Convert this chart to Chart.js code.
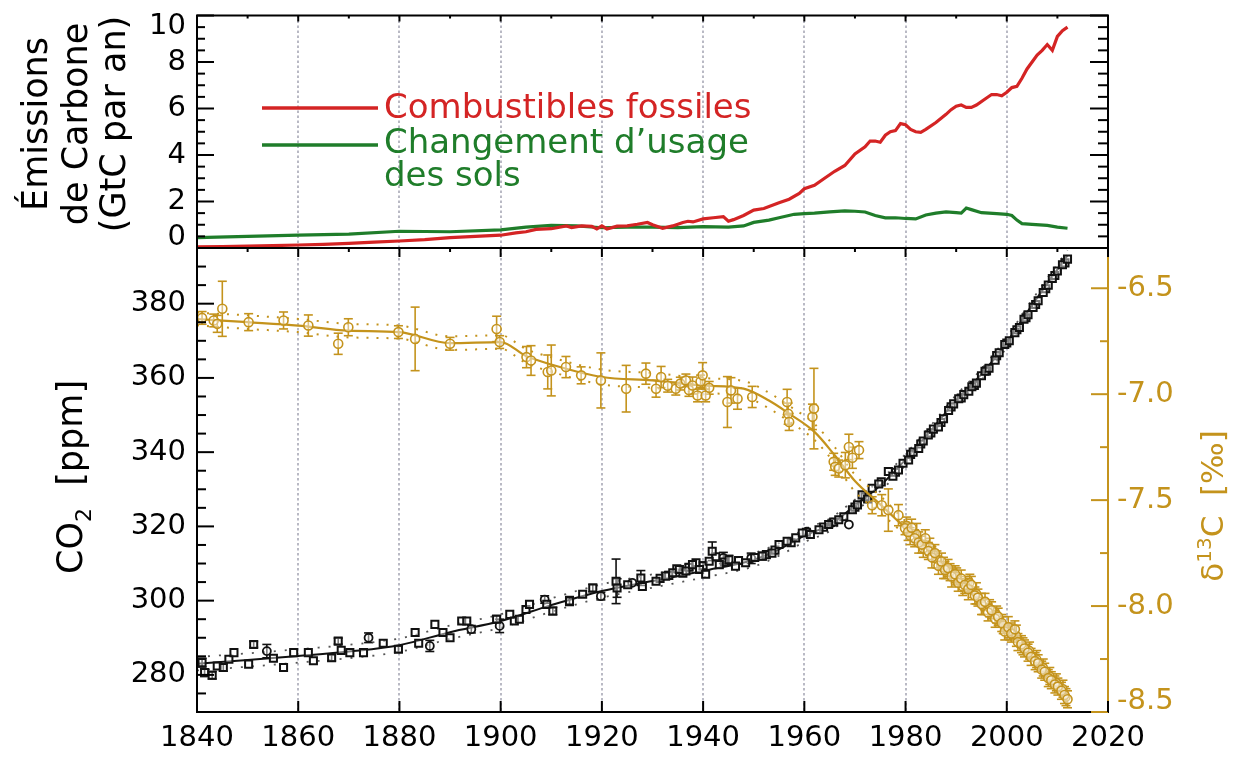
<!DOCTYPE html>
<html>
<head>
<meta charset="utf-8">
<script src="https://cdn.jsdelivr.net/npm/chart.js@4.4.0/dist/chart.umd.min.js"></script>
<style>
  html, body { margin: 0; padding: 0; background: #fff; }
  #wrap { position: relative; width: 1250px; height: 758px; }
  #wrap canvas { position: absolute; left: 0; top: 0; }
</style>
</head>
<body>
<div id="wrap">
  <canvas id="emissions" width="1250" height="758"></canvas>
  <canvas id="co2" width="1250" height="758"></canvas>
</div>
<script>
// ---- data ----
const yearTicks = [1840, 1860, 1880, 1900, 1920, 1940, 1960, 1980, 2000, 2020];
const emisTicks = [0, 2, 4, 6, 8, 10];
const co2Ticks = [280, 300, 320, 340, 360, 380];
const d13Ticks = [-6.5, -7.0, -7.5, -8.0, -8.5];

// fossil fuel emissions, GtC per year
const fossilYears = [1840,1845,1850,1855,1860,1865,1870,1875,1880,1885,1890,1895,1900,
  1903,1905,1907,1910,1913,1914,1916,1918,1919,1920,1921,1923,1925,1927,1929,1930,1932,1934,1936,1937,1938,1940,1942,1944,1945,1946,1948,1950,1952,1955,1957,1959,
  1960,1962,1964,1966,1968,1970,1972,1973,1974,1975,1976,1977,1978,1979,1980,1981,1982,1983,1984,1986,1988,1989,1990,1991,1992,1993,1994,1996,1997,1998,1999,
  2000,2001,2002,2003,2004,2005,2006,2007,2008,2009,2010,2011,2012];
const fossilValues = [0.05,0.06,0.08,0.1,0.13,0.16,0.2,0.25,0.3,0.36,0.45,0.5,0.55,
  0.65,0.7,0.8,0.83,0.95,0.88,0.95,0.93,0.82,0.95,0.82,0.94,0.95,1.02,1.1,1.0,0.85,0.95,1.1,1.15,1.12,1.25,1.3,1.35,1.15,1.22,1.4,1.63,1.7,1.95,2.1,2.35,
  2.55,2.7,3.0,3.3,3.55,4.05,4.35,4.6,4.6,4.55,4.85,5.0,5.05,5.35,5.3,5.1,5.0,4.97,5.1,5.4,5.75,5.95,6.1,6.15,6.05,6.05,6.15,6.45,6.6,6.6,6.55,
  6.7,6.9,6.95,7.3,7.7,8.0,8.3,8.5,8.75,8.5,9.1,9.35,9.5];

// land use change emissions, GtC per year
const landYears = [1840,1850,1860,1870,1880,1890,1900,1905,1910,1915,1920,1925,1930,1935,1940,1945,1948,1950,1953,1955,
  1958,1960,1962,1965,1968,1970,1972,1974,1976,1978,1980,1982,1984,1986,1988,1990,1991,1992,1993,1995,1998,2000,2001,2002,2003,2005,2008,2010,2012];
const landValues = [0.45,0.5,0.55,0.6,0.72,0.7,0.78,0.9,0.97,0.95,0.87,0.9,0.9,0.88,0.92,0.9,0.95,1.1,1.2,1.3,
  1.45,1.48,1.5,1.55,1.6,1.58,1.55,1.4,1.3,1.3,1.27,1.25,1.42,1.5,1.55,1.52,1.5,1.72,1.65,1.52,1.48,1.45,1.4,1.2,1.05,1.02,0.97,0.9,0.85];

// CO2 ice core / atmospheric samples (squares), ppm with 1-sigma error
const co2Years = [1841.0,1841.5,1843.0,1844.0,1845.2,1846.3,1847.3,1850.2,1851.2,1855.1,1857.1,1859.1,1862.0,1863.0,1866.6,1867.9,1868.5,1870.2,1872.9,1876.8,
  1879.8,1883.1,1883.8,1887.0,1888.6,1890.0,1892.3,1893.3,1899.2,1901.8,1902.7,1903.7,1905.0,1905.7,1909.1,1910.3,1913.6,1916.2,1918.2,1922.8,
  1923.0,1925.1,1927.7,1928.0,1930.7,1932.6,1934.0,1935.3,1936.6,1937.9,1939.3,1940.5,1941.2,1941.8,1943.2,1945.1,1946.4,1948.4,1951.7,1953.6,
  1955.0,1956.6,1958.3,1959.6,1961.2,1962.9,1964.8,1966.8,1969.5,1970.5,1971.4,1972.5,1973.4,1974.7,1976.6,1977.5,1978.6,1979.5,1980.6,1981.5,
  1982.6,1983.5,1984.5,1985.5,1986.5,1987.5,1988.5,1989.5,1990.5,1991.5,1992.5,1993.1,1994.0,1995.0,1995.7,1996.5,1997.7,1998.5,1999.6,2000.5,
  2001.6,2002.5,2003.4,2004.2,2005.2,2006.2,2007.2,2008.2,2009.0,2010.0,2011.0,2012.0];
const co2Values = [283.3,280.6,279.9,282.4,282.0,284.2,286.0,282.9,288.2,284.5,282.0,286.0,286.0,283.8,284.6,289.1,286.6,286.0,286.0,288.5,
  286.9,291.4,288.5,293.6,291.4,290.0,294.5,294.5,295.0,296.3,294.5,295.0,297.6,299.0,299.0,297.2,299.9,301.7,303.4,305.2,
  303.4,304.3,306.1,303.8,305.2,306.6,307.5,308.4,308.0,309.7,308.4,307.1,310.6,313.3,309.7,311.0,309.3,310.2,312.0,312.8,
  315.1,316.0,316.9,318.2,317.8,319.1,320.5,321.8,324.5,325.8,328.5,327.4,330.3,331.4,334.8,333.5,335.2,337.0,337.9,340.0,
  341.0,343.0,344.6,346.2,346.8,349.0,351.2,353.0,354.4,355.5,356.4,357.6,358.6,360.6,361.8,362.6,364.8,366.8,369.0,370.0,
  372.2,373.6,375.8,377.0,379.0,380.8,383.0,385.0,386.8,388.8,390.5,392.0];
const co2Errors = [1.2,1.0,1.0,0,1.0,0,0,0,0.8,0,0,0,0,0,0.8,0.8,0,0,0,0,
  0.8,0,0,0,0,0,0,0,1.0,0,0,0,0,0,0,1.0,1.2,0,1.0,6.0,
  2.5,0,2.0,0,0,0,0,1.0,0,1.0,0,0,0,2.5,0,1.2,0,0,1.0,0,
  0,0,0,0,0,0,0,0,0,0,0,0,0,0,0,0,0,0,0,0,
  0,0,0,0,0,0,0,0,0,0,0,0,0,0,0,0,0,0,0,0,
  0,0,0,0,0,0,0,0,0,0,0,0];

// second CO2 record, same marker (high resolution ice core + station data)
const co2bYears = [1931.5,1933.2,1934.8,1936.0,1937.2,1938.6,1940.0,1942.5,1944.2,1947.0,1950.2,1952.5,1954.2,1957.4,1960.4,1963.8,1965.8,1967.8,
  1970.0,1972.0,1975.2,1978.0,1981.0,1983.0,1985.0,1987.0,1989.0,1991.0,1993.6,1996.0,1998.0,2000.0,2002.0,2003.8,2005.7,2007.7,2009.5,2011.5];
const co2bValues = [306.0,306.8,308.6,307.4,309.0,310.2,309.4,311.8,310.4,310.8,311.6,312.4,313.6,315.6,318.4,319.8,321.2,322.6,
  325.2,328.0,332.0,334.6,339.4,342.2,345.2,348.0,352.2,354.6,358.0,361.9,366.0,369.4,373.0,376.2,379.8,384.0,387.6,391.0];
const co2bErrors = [0,1.0,0,0,0.8,0,1.0,0,0,0,0,0,0,0,0,0,0,0,
  0,0,0,0,0,0,0,0,0,0,0,0,0,0,0,0,0,0,0,0];

// CO2 firn samples (circles)
const firnYears = [1853.8,1873.9,1886.0,1894.2,1899.8,1908.7,1919.8,1926.0,1944.0,1949.5,1960.5,1965.5,1968.8];
const firnValues = [286.4,290.0,287.8,292.3,293.2,300.3,301.2,304.8,311.5,311.4,318.6,321.0,320.5];
const firnErrors = [1.8,1.3,1.5,1.0,1.8,1.0,1.0,0,1.5,1.4,0,0,0];

// CO2 spline and its uncertainty envelope
const co2FitYears = [1840,1850,1860,1870,1880,1890,1900,1910,1920,1930,1940,1950,1955,1960,1965,1970,1975,1980,1985,1990,1995,2000,2005,2012];
const co2Fit = [283.0,284.0,285.1,286.3,288.0,291.5,294.5,298.8,302.6,305.3,308.0,311.0,313.8,317.5,320.4,325.6,331.0,338.0,345.8,354.0,361.0,369.6,379.6,393.0];
const co2FitHigh = [284.8,285.8,286.9,288.1,289.8,293.3,296.3,300.6,304.4,307.1,309.8,312.8,315.5,319.2,322.1,327.2,332.5,339.5,347.2,355.4,362.4,371.0,381.0,394.4];
const co2FitLow = [281.2,282.2,283.3,284.5,286.2,289.7,292.7,297.0,300.8,303.5,306.2,309.2,312.1,315.8,318.7,324.0,329.5,336.5,344.4,352.6,359.6,368.2,378.2,391.6];

// delta 13C of atmospheric CO2, per mil
const d13Years = [1841.0,1843.3,1844.0,1845.0,1850.2,1857.1,1862.0,1867.9,1869.9,1879.8,1883.1,1890.0,1899.2,1899.8,1905.1,1906.0,1909.3,1910.0,1912.9,1915.9,
  1919.8,1924.8,1928.7,1930.7,1931.7,1933.0,1934.6,1935.5,1936.6,1937.2,1937.9,1938.9,1939.5,1939.9,1940.5,1941.2,1944.8,1945.5,1946.8,1949.7,
  1956.6,1956.8,1957.0,1961.6,1961.9,1965.8,1966.1,1966.8,1968.1,1968.8,1969.5,1970.8,1973.4,1975.3,1976.6,1978.6,1979.9,
  1980.5,1981.2,1981.8,1982.6,1983.2,1983.9,1984.5,1985.2,1985.8,1986.5,1987.1,1987.8,1988.4,1989.1,1989.8,1990.4,1991.0,1991.7,1992.4,1993.0,
  1993.7,1994.3,1995.0,1995.7,1996.3,1997.0,1997.7,1998.3,1999.0,1999.6,2000.3,2000.9,2001.6,2002.2,2002.9,2003.5,2004.2,2004.8,2005.6,2006.2,
  2006.9,2007.5,2008.2,2008.8,2009.5,2010.1,2010.8,2011.4,2012.0];
const d13Values = [-6.64,-6.652,-6.668,-6.597,-6.66,-6.652,-6.676,-6.762,-6.684,-6.707,-6.739,-6.762,-6.692,-6.754,-6.825,-6.841,-6.895,-6.888,-6.872,-6.911,
  -6.935,-6.974,-6.903,-6.974,-6.919,-6.96,-6.974,-6.95,-6.935,-6.98,-6.959,-7.006,-6.94,-6.911,-7.006,-6.97,-7.037,-6.982,-7.021,-7.013,
  -7.037,-7.092,-7.131,-7.107,-7.068,-7.319,-7.343,-7.351,-7.335,-7.249,-7.30,-7.264,-7.524,-7.524,-7.547,-7.571,-7.633,
  -7.65,-7.63,-7.68,-7.70,-7.71,-7.68,-7.74,-7.77,-7.75,-7.81,-7.79,-7.83,-7.82,-7.86,-7.85,-7.89,-7.87,-7.90,-7.92,-7.90,
  -7.95,-7.96,-7.99,-7.98,-8.03,-8.02,-8.06,-8.05,-8.08,-8.12,-8.10,-8.13,-8.11,-8.17,-8.18,-8.20,-8.22,-8.24,-8.26,-8.27,
  -8.30,-8.31,-8.34,-8.35,-8.37,-8.38,-8.40,-8.42,-8.44];
const d13Errors = [0.03,0.03,0.04,0.13,0.04,0.04,0.05,0.05,0.04,0.03,0.15,0.03,0.06,0.03,0.05,0.07,0.08,0.12,0.05,0.04,
  0.13,0.11,0.05,0.04,0.05,0.03,0.03,0.03,0.03,0.03,0.04,0.03,0.03,0.06,0.03,0.03,0.12,0.06,0.05,0.05,
  0.06,0.05,0.04,0.06,0.19,0.04,0.04,0.04,0.06,0.06,0.05,0.04,0.04,0.05,0.1,0.05,0.03,
  0.04,0.04,0.04,0.05,0.04,0.04,0.04,0.05,0.04,0.04,0.04,0.04,0.04,0.05,0.04,0.04,0.04,0.04,0.05,0.04,
  0.04,0.04,0.05,0.04,0.04,0.04,0.04,0.04,0.04,0.04,0.05,0.04,0.04,0.04,0.04,0.04,0.04,0.04,0.04,0.04,
  0.04,0.04,0.04,0.04,0.04,0.04,0.04,0.04,0.04];

// flask samples of delta 13C, 1980 onwards
const d13FlaskYears = [1980.2,1980.9,1982.2,1983.5,1984.8,1986.2,1987.5,1988.8,1990.1,1991.3,1992.7,1994.0,1995.3,1996.6,1998.0,1999.3,
  2000.6,2001.9,2003.2,2004.5,2005.9,2007.2,2008.5,2009.8,2011.1,2011.7];
const d13FlaskValues = [-7.62,-7.67,-7.66,-7.73,-7.72,-7.78,-7.82,-7.84,-7.86,-7.91,-7.89,-7.94,-8.00,-8.01,-8.04,-8.09,
  -8.12,-8.14,-8.19,-8.21,-8.25,-8.29,-8.33,-8.36,-8.39,-8.43];
const d13FlaskErrors = [0.04,0.04,0.05,0.04,0.04,0.04,0.05,0.04,0.04,0.04,0.04,0.05,0.04,0.04,0.04,0.04,
  0.04,0.05,0.04,0.04,0.04,0.04,0.04,0.04,0.04,0.04];

// delta 13C spline and its envelope
const d13FitYears = [1840,1850,1860,1870,1880,1890,1900,1905,1910,1920,1930,1940,1948,1953,1957,1962,1966,1970,1975,1980,1990,2000,2012];
const d13Fit = [-6.645,-6.66,-6.676,-6.70,-6.707,-6.759,-6.754,-6.82,-6.86,-6.919,-6.935,-6.959,-6.974,-7.03,-7.092,-7.178,-7.288,-7.41,-7.52,-7.633,-7.87,-8.11,-8.43];
const d13FitHigh = [-6.615,-6.628,-6.645,-6.668,-6.676,-6.727,-6.722,-6.787,-6.826,-6.884,-6.9,-6.924,-6.938,-6.993,-7.055,-7.14,-7.25,-7.38,-7.48,-7.6,-7.84,-8.08,-8.4];
const d13FitLow = [-6.675,-6.692,-6.707,-6.732,-6.738,-6.791,-6.786,-6.853,-6.894,-6.954,-6.97,-6.994,-7.01,-7.067,-7.129,-7.216,-7.326,-7.46,-7.56,-7.666,-7.9,-8.14,-8.46];

// ---- layout & style ----
const W = 1250, H = 758;
const PLOT_LEFT = 197, PLOT_RIGHT = 1108;
const PLOT_TOP = 15.5, SPLIT = 248, PLOT_BOTTOM = 712;
const FAMILY = "'DejaVu Sans', sans-serif";
const RED = '#d42424', GREEN = '#1f7d2a', GOLD = '#c4931c', GRID = '#a8a9b6', INK = '#111';

const pairs = (xs, ys) => xs.map((x, i) => ({ x: x, y: ys[i] }));
const range = (from, to, step) => { const out = []; for (let v = from; v <= to + 1e-9; v += step) out.push(+v.toFixed(4)); return out; };

function seg(ctx, x1, y1, x2, y2) {
  ctx.beginPath(); ctx.moveTo(x1, y1); ctx.lineTo(x2, y2); ctx.stroke();
}

// dotted vertical lines every 20 years
function drawGrid(chart) {
  const { ctx, chartArea: a, scales } = chart;
  ctx.save();
  ctx.strokeStyle = GRID; ctx.lineWidth = 1.6; ctx.setLineDash([2.5, 2.5]);
  yearTicks.slice(1, -1).forEach(v => {
    const px = Math.round(scales.x.getPixelForValue(v));
    seg(ctx, px, a.top, px, a.bottom);
  });
  ctx.restore();
}

// inward tick marks on one edge of the plot box
function edgeTicks(chart, scaleId, edge, values, len, color) {
  const { ctx, chartArea: a } = chart;
  const s = chart.scales[scaleId];
  ctx.save();
  ctx.strokeStyle = color; ctx.lineWidth = 2;
  values.forEach(v => {
    const p = s.getPixelForValue(v);
    if (edge === 'left') seg(ctx, a.left, p, a.left + len, p);
    else if (edge === 'right') seg(ctx, a.right, p, a.right - len, p);
    else if (edge === 'top') seg(ctx, p, a.top, p, a.top + len);
    else seg(ctx, p, a.bottom, p, a.bottom - len);
  });
  ctx.restore();
}

// y tick labels; end labels are kept inside the frame
function yLabels(chart, scaleId, side, values, fmt, color) {
  const { ctx, chartArea: a } = chart;
  const s = chart.scales[scaleId];
  ctx.save();
  ctx.font = '29px ' + FAMILY; ctx.fillStyle = color; ctx.textBaseline = 'middle';
  ctx.textAlign = side === 'left' ? 'right' : 'left';
  const x = side === 'left' ? a.left - 11 : a.right + 9;
  values.forEach(v => {
    const p = Math.min(Math.max(s.getPixelForValue(v), a.top + 11), a.bottom - 11);
    ctx.fillText(fmt(v), x, p);
  });
  ctx.restore();
}

// vertical title made of runs (sub/superscripts via size + shift), reading bottom to top
function verticalTitle(ctx, baseX, centerY, runs, color) {
  ctx.save();
  ctx.fillStyle = color; ctx.textBaseline = 'alphabetic'; ctx.textAlign = 'left';
  let total = 0;
  runs.forEach(r => { ctx.font = r.size + 'px ' + FAMILY; total += ctx.measureText(r.text).width; });
  ctx.translate(baseX, centerY);
  ctx.rotate(-Math.PI / 2);
  let x = -total / 2;
  runs.forEach(r => {
    ctx.font = r.size + 'px ' + FAMILY;
    ctx.fillText(r.text, x, r.shift || 0);
    x += ctx.measureText(r.text).width;
  });
  ctx.restore();
}

function drawFrameLines(ctx, a, sides) {
  ctx.save();
  ctx.lineWidth = 2;
  sides.forEach(sd => {
    ctx.strokeStyle = sd.color;
    if (sd.edge === 'top') seg(ctx, a.left - 1, a.top, a.right + 1, a.top);
    if (sd.edge === 'bottom') seg(ctx, a.left - 1, a.bottom, a.right + 1, a.bottom);
    if (sd.edge === 'left') seg(ctx, a.left, a.top, a.left, a.bottom);
    if (sd.edge === 'right') seg(ctx, a.right, a.top, a.right, a.bottom);
  });
  ctx.restore();
}

const emissionsFrame = {
  id: 'emissionsFrame',
  beforeDatasetsDraw(chart) { drawGrid(chart); },
  afterDraw(chart) {
    const { ctx, chartArea: a } = chart;
    drawFrameLines(ctx, a, [
      { edge: 'top', color: '#000' }, { edge: 'left', color: '#000' },
      { edge: 'right', color: '#000' }, { edge: 'bottom', color: '#000' }
    ]);
    edgeTicks(chart, 'y', 'left', emisTicks, 17, '#000');
    edgeTicks(chart, 'y', 'left', range(0.5, 9.5, 0.5).filter(v => v % 2), 8, '#000');
    edgeTicks(chart, 'y', 'right', emisTicks, 18, '#000');
    edgeTicks(chart, 'y', 'right', range(0.5, 9.5, 0.5).filter(v => v % 2), 10, '#000');
    edgeTicks(chart, 'x', 'top', yearTicks, 6, '#000');
    edgeTicks(chart, 'x', 'top', range(1850, 2010, 20), 3, '#000');
    yLabels(chart, 'y', 'left', emisTicks, v => String(v), '#000');

    verticalTitle(ctx, 47, 124, [{ text: 'Émissions', size: 35 }], '#000');
    verticalTitle(ctx, 87, 124, [{ text: 'de Carbone', size: 35 }], '#000');
    verticalTitle(ctx, 125, 124, [{ text: '(GtC par an)', size: 35 }], '#000');

    // legend
    ctx.save();
    ctx.lineWidth = 3.5;
    ctx.strokeStyle = RED; seg(ctx, 262, 108, 378, 108);
    ctx.strokeStyle = GREEN; seg(ctx, 262, 145, 378, 145);
    ctx.font = '34px ' + FAMILY; ctx.textAlign = 'left'; ctx.textBaseline = 'alphabetic';
    ctx.fillStyle = RED; ctx.fillText('Combustibles fossiles', 384, 118);
    ctx.fillStyle = GREEN; ctx.fillText('Changement d\u2019usage', 384, 153);
    ctx.fillText('des sols', 384, 186);
    ctx.restore();
  }
};

const co2Frame = {
  id: 'co2Frame',
  beforeDatasetsDraw(chart) {
    drawGrid(chart);
    // error bars under the markers
    const { ctx, chartArea: a } = chart;
    ctx.save();
    ctx.beginPath(); ctx.rect(a.left, a.top, a.right - a.left, a.bottom - a.top); ctx.clip();
    chart.data.datasets.forEach(ds => {
      if (!ds.errors) return;
      const ys = chart.scales[ds.yAxisID];
      ctx.strokeStyle = ds.borderColor; ctx.lineWidth = 1.6;
      ds.data.forEach((p, j) => {
        const e = ds.errors[j];
        if (!e) return;
        const px = chart.scales.x.getPixelForValue(p.x);
        const hi = ys.getPixelForValue(p.y + e), lo = ys.getPixelForValue(p.y - e);
        seg(ctx, px, hi, px, lo);
        seg(ctx, px - 4.5, hi, px + 4.5, hi);
        seg(ctx, px - 4.5, lo, px + 4.5, lo);
      });
    });
    ctx.restore();
  },
  afterDraw(chart) {
    const { ctx, chartArea: a } = chart;
    drawFrameLines(ctx, a, [
      { edge: 'top', color: '#000' }, { edge: 'left', color: '#000' },
      { edge: 'bottom', color: '#000' }, { edge: 'right', color: GOLD }
    ]);
    edgeTicks(chart, 'y', 'left', co2Ticks, 17, '#000');
    edgeTicks(chart, 'y', 'left', range(275, 390, 5).filter(v => v % 20), 9, '#000');
    edgeTicks(chart, 'yd', 'right', d13Ticks, 17, GOLD);
    edgeTicks(chart, 'yd', 'right', range(-8.25, -6.5, 0.5), 8, GOLD);
    edgeTicks(chart, 'x', 'top', yearTicks, 9, '#000');
    edgeTicks(chart, 'x', 'top', range(1850, 2010, 20), 4, '#000');
    edgeTicks(chart, 'x', 'bottom', yearTicks, 11, '#000');
    yLabels(chart, 'y', 'left', co2Ticks, v => String(v), '#000');
    yLabels(chart, 'yd', 'right', d13Ticks, v => v.toFixed(1), GOLD);

    verticalTitle(ctx, 82, 477, [
      { text: 'CO', size: 35 }, { text: '2', size: 22, shift: 9 }, { text: '  [ppm]', size: 35 }
    ], '#000');
    verticalTitle(ctx, 1223, 506, [
      { text: '\u03b4', size: 31 }, { text: '13', size: 20, shift: -12 }, { text: 'C  [\u2030]', size: 31 }
    ], GOLD);
  }
};

const hiddenGrid = { display: false, drawTicks: false };
const hollow = 'rgba(255,255,255,0.45)';

new Chart(document.getElementById('emissions'), {
  type: 'line',
  data: {
    datasets: [
      { label: 'Combustibles fossiles', data: pairs(fossilYears, fossilValues), borderColor: RED, borderWidth: 3.2, pointRadius: 0 },
      { label: 'Changement d\u2019usage des sols', data: pairs(landYears, landValues), borderColor: GREEN, borderWidth: 3.2, pointRadius: 0 }
    ]
  },
  options: {
    responsive: false,
    animation: false,
    layout: { padding: { top: PLOT_TOP, bottom: H - SPLIT, left: 0, right: W - PLOT_RIGHT } },
    plugins: { legend: { display: false }, tooltip: { enabled: false } },
    scales: {
      x: { type: 'linear', min: 1840, max: 2020, display: false },
      y: {
        min: 0, max: 10,
        ticks: { display: false },
        grid: hiddenGrid, border: { display: false },
        afterFit: s => { s.width = PLOT_LEFT; }
      }
    }
  },
  plugins: [emissionsFrame]
});

new Chart(document.getElementById('co2'), {
  type: 'line',
  data: {
    datasets: [
      { label: '\u03b413C', data: pairs(d13Years, d13Values), errors: d13Errors, yAxisID: 'yd', showLine: false,
        pointStyle: 'circle', pointRadius: 4.5, borderWidth: 1.6, borderColor: GOLD, backgroundColor: hollow },
      { label: '\u03b413C flask', data: pairs(d13FlaskYears, d13FlaskValues), errors: d13FlaskErrors, yAxisID: 'yd', showLine: false,
        pointStyle: 'circle', pointRadius: 4, borderWidth: 1.6, borderColor: GOLD, backgroundColor: hollow },
      { label: '\u03b413C spline', data: pairs(d13FitYears, d13Fit), yAxisID: 'yd', borderColor: GOLD, borderWidth: 2.2,
        pointRadius: 0, cubicInterpolationMode: 'monotone' },
      { label: '\u03b413C high', data: pairs(d13FitYears, d13FitHigh), yAxisID: 'yd', borderColor: GOLD, borderWidth: 2,
        borderDash: [2, 8], pointRadius: 0, cubicInterpolationMode: 'monotone' },
      { label: '\u03b413C low', data: pairs(d13FitYears, d13FitLow), yAxisID: 'yd', borderColor: GOLD, borderWidth: 2,
        borderDash: [2, 8], pointRadius: 0, cubicInterpolationMode: 'monotone' },
      { label: 'CO2', data: pairs(co2Years, co2Values), errors: co2Errors, yAxisID: 'y', showLine: false,
        pointStyle: 'rect', pointRadius: 5, borderWidth: 2, borderColor: INK, backgroundColor: hollow },
      { label: 'CO2 b', data: pairs(co2bYears, co2bValues), errors: co2bErrors, yAxisID: 'y', showLine: false,
        pointStyle: 'rect', pointRadius: 5, borderWidth: 2, borderColor: INK, backgroundColor: hollow },
      { label: 'CO2 firn', data: pairs(firnYears, firnValues), errors: firnErrors, yAxisID: 'y', showLine: false,
        pointStyle: 'circle', pointRadius: 4, borderWidth: 1.8, borderColor: INK, backgroundColor: hollow },
      { label: 'CO2 spline', data: pairs(co2FitYears, co2Fit), yAxisID: 'y', borderColor: INK, borderWidth: 2,
        pointRadius: 0, cubicInterpolationMode: 'monotone' },
      { label: 'CO2 high', data: pairs(co2FitYears, co2FitHigh), yAxisID: 'y', borderColor: '#555', borderWidth: 1.8,
        borderDash: [2, 9], pointRadius: 0, cubicInterpolationMode: 'monotone' },
      { label: 'CO2 low', data: pairs(co2FitYears, co2FitLow), yAxisID: 'y', borderColor: '#555', borderWidth: 1.8,
        borderDash: [2, 9], pointRadius: 0, cubicInterpolationMode: 'monotone' }
    ]
  },
  options: {
    responsive: false,
    animation: false,
    layout: { padding: { top: SPLIT, bottom: 0, left: 0, right: 0 } },
    plugins: { legend: { display: false }, tooltip: { enabled: false } },
    scales: {
      x: {
        type: 'linear', min: 1840, max: 2020,
        afterBuildTicks: s => { s.ticks = yearTicks.map(v => ({ value: v })); },
        ticks: { font: { family: FAMILY, size: 29, lineHeight: 1 }, color: '#000', padding: 12,
          maxRotation: 0, autoSkip: false, callback: v => String(v) },
        grid: hiddenGrid, border: { display: false },
        afterFit: s => { s.height = H - PLOT_BOTTOM; }
      },
      y: {
        position: 'left', min: 270, max: 395,
        ticks: { display: false }, grid: hiddenGrid, border: { display: false },
        afterFit: s => { s.width = PLOT_LEFT; }
      },
      yd: {
        position: 'right', min: -8.5, max: -6.31,
        ticks: { display: false }, grid: hiddenGrid, border: { display: false },
        afterFit: s => { s.width = W - PLOT_RIGHT; }
      }
    }
  },
  plugins: [co2Frame]
});
</script>
</body>
</html>
